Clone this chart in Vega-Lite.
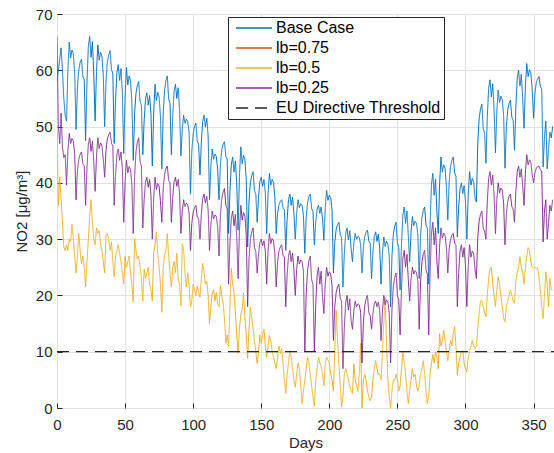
{
"$schema":"https://vega.github.io/schema/vega-lite/v6.json",
"width":497,"height":394,
"autosize":{"type":"none"},
"padding":{"left":57,"top":14,"right":0,"bottom":45},
"background":"white",
"config":{"font":"Liberation Sans","view":{"stroke":"#262626","strokeWidth":1},
"axis":{"labelFontSize":15,"titleFontSize":15,"titleFontWeight":"normal","labelColor":"#262626","titleColor":"#262626","gridColor":"#e2e2e2","gridWidth":1,"domain":false,"tickColor":"#262626","tickSize":-5,"labelFlush":false}},
"layer":[
{"data":{"values":[
{"d":0,"b":58,"p":66,"y":50},{"d":1,"b":60,"p":50,"y":36},{"d":2,"b":62,"p":47,"y":41},{"d":3,"b":64,"p":52.4,"y":37},{"d":4,"b":60,"p":46.4,"y":33},{"d":5,"b":55,"p":44.5,"y":28.6},{"d":6,"b":52,"p":45,"y":28},{"d":7,"b":51,"p":39.6,"y":29},
{"d":8,"b":60.1,"p":45.6,"y":28},{"d":9,"b":65,"p":48.8,"y":30},{"d":10,"b":62.2,"p":47,"y":29.5},{"d":11,"b":63.6,"p":47.9,"y":32.6},{"d":12,"b":62.9,"p":47.4,"y":30},{"d":13,"b":59.4,"p":45.1,"y":27},{"d":14,"b":49.5,"p":37,"y":24},
{"d":15,"b":57,"p":42.1,"y":27},{"d":16,"b":60.1,"p":44.2,"y":31},{"d":17,"b":61.4,"p":45.1,"y":28},{"d":18,"b":62,"p":45.5,"y":25.6},{"d":19,"b":58.9,"p":43.4,"y":27},{"d":20,"b":58.3,"p":43,"y":25},{"d":21,"b":47.5,"p":36,"y":21.5},
{"d":22,"b":57.7,"p":42.6,"y":26},{"d":23,"b":64.2,"p":46.8,"y":29.8},{"d":24,"b":66,"p":48,"y":34},{"d":25,"b":62.3,"p":45.6,"y":37},{"d":26,"b":65.1,"p":47.4,"y":33},{"d":27,"b":59.5,"p":43.8,"y":30},{"d":28,"b":51,"p":38.5,"y":29},
{"d":29,"b":59.8,"p":44.7,"y":32},{"d":30,"b":64.5,"p":48,"y":31},{"d":31,"b":61.8,"p":46.1,"y":31.5},{"d":32,"b":63.2,"p":47.1,"y":29},{"d":33,"b":62.5,"p":46.6,"y":28},{"d":34,"b":59.1,"p":44.2,"y":26},{"d":35,"b":50,"p":41,"y":24},
{"d":36,"b":58.1,"p":45.8,"y":30.7},{"d":37,"b":61.5,"p":47.8,"y":31},{"d":38,"b":62.8,"p":48.6,"y":30},{"d":39,"b":63.5,"p":49,"y":28},{"d":40,"b":60.1,"p":47,"y":29.5},{"d":41,"b":59.5,"p":46.6,"y":26},{"d":42,"b":47,"p":36,"y":23.3},
{"d":43,"b":54.7,"p":41.5,"y":27},{"d":44,"b":59.6,"p":45,"y":28},{"d":45,"b":61,"p":46,"y":29},{"d":46,"b":58.2,"p":44,"y":27.5},{"d":47,"b":60.3,"p":45.5,"y":26},{"d":48,"b":56.1,"p":42.5,"y":24},{"d":49,"b":45.2,"p":33,"y":22},
{"d":50,"b":55.1,"p":40.2,"y":26.9},{"d":51,"b":60.5,"p":44,"y":25},{"d":52,"b":57.4,"p":41.8,"y":26},{"d":53,"b":59,"p":42.9,"y":27},{"d":54,"b":58.2,"p":42.4,"y":24},{"d":55,"b":54.4,"p":39.6,"y":22},{"d":56,"b":44,"p":31,"y":18.8},
{"d":57,"b":52.4,"p":41.2,"y":30.1},{"d":58,"b":55.9,"p":45.5,"y":28},{"d":59,"b":57.3,"p":47.2,"y":26.5},{"d":60,"b":58,"p":48,"y":27},{"d":61,"b":54.5,"p":43.8,"y":25},{"d":62,"b":53.8,"p":42.9,"y":23},{"d":63,"b":45,"p":32,"y":19},
{"d":64,"b":51,"p":37,"y":24.7},{"d":65,"b":54.9,"p":40.1,"y":23},{"d":66,"b":56,"p":41,"y":24},{"d":67,"b":53.8,"p":39.2,"y":25},{"d":68,"b":55.5,"p":40.6,"y":22},{"d":69,"b":52.2,"p":37.9,"y":21},{"d":70,"b":43,"p":30,"y":19},
{"d":71,"b":52.4,"p":37.2,"y":27.6},{"d":72,"b":57.5,"p":41,"y":29},{"d":73,"b":54.6,"p":38.8,"y":31.3},{"d":74,"b":56.1,"p":39.9,"y":27.5},{"d":75,"b":55.3,"p":39.4,"y":25},{"d":76,"b":51.7,"p":36.6,"y":22},{"d":77,"b":42.5,"p":33,"y":17},
{"d":78,"b":52.4,"p":39,"y":25},{"d":79,"b":56.5,"p":41.5,"y":27},{"d":80,"b":58.2,"p":42.5,"y":28},{"d":81,"b":59,"p":43,"y":31},{"d":82,"b":54.9,"p":40.5,"y":27},{"d":83,"b":54.1,"p":40,"y":24},{"d":84,"b":45,"p":33,"y":21.5},
{"d":85,"b":51.9,"p":37.4,"y":25},{"d":86,"b":56.3,"p":40.2,"y":26},{"d":87,"b":57.5,"p":41,"y":24},{"d":88,"b":55,"p":39.4,"y":27.5},{"d":89,"b":56.9,"p":40.6,"y":23},{"d":90,"b":53.1,"p":38.2,"y":22},{"d":91,"b":44.8,"p":31,"y":18.2},
{"d":92,"b":49.5,"p":34.9,"y":29.2},{"d":93,"b":52,"p":37,"y":28},{"d":94,"b":50.6,"p":35.8,"y":24},{"d":95,"b":51.3,"p":36.4,"y":21.5},{"d":96,"b":50.9,"p":36.1,"y":24},{"d":97,"b":49.1,"p":34.6,"y":22},{"d":98,"b":38,"p":28,"y":18},
{"d":99,"b":45.6,"p":32.8,"y":19},{"d":100,"b":48.7,"p":34.8,"y":22},{"d":101,"b":50,"p":35.6,"y":21},{"d":102,"b":50.6,"p":36,"y":20},{"d":103,"b":47.5,"p":34,"y":21.7},{"d":104,"b":46.8,"p":33.6,"y":20.5},{"d":105,"b":41.4,"p":30,"y":19.7},
{"d":106,"b":47.2,"p":34.4,"y":23},{"d":107,"b":50.9,"p":37.2,"y":25.7},{"d":108,"b":52,"p":38,"y":24},{"d":109,"b":49.9,"p":36.4,"y":22},{"d":110,"b":51.5,"p":37.6,"y":22.5},{"d":111,"b":48.3,"p":35.2,"y":20},{"d":112,"b":37,"p":28,"y":15},
{"d":113,"b":42.9,"p":32.6,"y":18},{"d":114,"b":46,"p":35,"y":20.4},{"d":115,"b":44.2,"p":33.6,"y":21},{"d":116,"b":45.1,"p":34.3,"y":19},{"d":117,"b":44.7,"p":34,"y":20.5},{"d":118,"b":42.4,"p":32.2,"y":18.5},{"d":119,"b":37,"p":27,"y":18},
{"d":120,"b":43.2,"p":34.2,"y":21.7},{"d":121,"b":45.8,"p":37.2,"y":20},{"d":122,"b":46.8,"p":38.4,"y":18.7},{"d":123,"b":47.3,"p":39,"y":16},{"d":124,"b":44.7,"p":36,"y":11.5},{"d":125,"b":44.2,"p":35.4,"y":13},{"d":126,"b":31,"p":22,"y":11},
{"d":127,"b":38.5,"p":29.2,"y":18},{"d":128,"b":43.2,"p":33.7,"y":24.8},{"d":129,"b":44.6,"p":35,"y":22},{"d":130,"b":41.9,"p":32.4,"y":20.4},{"d":131,"b":43.9,"p":34.4,"y":17},{"d":132,"b":39.8,"p":30.5,"y":13},{"d":133,"b":31.6,"p":23,"y":9.7},
{"d":134,"b":41.2,"p":31.5,"y":14.3},{"d":135,"b":46.4,"p":36,"y":16.5},{"d":136,"b":43.4,"p":33.4,"y":17.7},{"d":137,"b":44.9,"p":34.7,"y":20.4},{"d":138,"b":44.2,"p":34.1,"y":16},{"d":139,"b":40.5,"p":30.8,"y":13},{"d":140,"b":28.6,"p":18,"y":8.8},
{"d":141,"b":36.6,"p":26.4,"y":14},{"d":142,"b":40,"p":29.9,"y":17.9},{"d":143,"b":41.3,"p":31.3,"y":16},{"d":144,"b":42,"p":32,"y":14.3},{"d":145,"b":38.7,"p":28.5,"y":12},{"d":146,"b":38,"p":27.8,"y":10},{"d":147,"b":33,"p":24,"y":7.9},
{"d":148,"b":37.4,"p":27.3,"y":10},{"d":149,"b":40.2,"p":29.4,"y":13},{"d":150,"b":41,"p":30,"y":11.5},{"d":151,"b":39.4,"p":28.8,"y":13},{"d":152,"b":40.6,"p":29.7,"y":14},{"d":153,"b":38.2,"p":27.9,"y":11},{"d":154,"b":31,"p":22,"y":9},
{"d":155,"b":38,"p":27.9,"y":11},{"d":156,"b":41.7,"p":31,"y":12.9},{"d":157,"b":39.6,"p":29.2,"y":12},{"d":158,"b":40.6,"p":30.1,"y":10},{"d":159,"b":40.1,"p":29.7,"y":9},{"d":160,"b":37.4,"p":27.4,"y":8},{"d":161,"b":31,"p":21.5,"y":7},
{"d":162,"b":34.6,"p":26,"y":9},{"d":163,"b":36.1,"p":27.9,"y":11},{"d":164,"b":36.7,"p":28.6,"y":9.7},{"d":165,"b":37,"p":29,"y":10.5},{"d":166,"b":35.5,"p":27.1,"y":8},{"d":167,"b":35.2,"p":26.8,"y":5},{"d":168,"b":28,"p":18,"y":2.6},
{"d":169,"b":33.5,"p":23.5,"y":6},{"d":170,"b":37,"p":27,"y":8},{"d":171,"b":38,"p":28,"y":10.2},{"d":172,"b":36,"p":26,"y":9},{"d":173,"b":37.5,"p":27.5,"y":7},{"d":174,"b":34.5,"p":24.5,"y":5},{"d":175,"b":30,"p":20,"y":3.7},
{"d":176,"b":34.6,"p":24.6,"y":6},{"d":177,"b":37,"p":27,"y":8},{"d":178,"b":35.6,"p":25.6,"y":7},{"d":179,"b":36.3,"p":26.3,"y":4},{"d":180,"b":36,"p":26,"y":0.8},{"d":181,"b":34.2,"p":24.2,"y":3},{"d":182,"b":27.5,"p":10,"y":5},
{"d":183,"b":33.8,"p":20.2,"y":7},{"d":184,"b":36.4,"p":24.5,"y":9},{"d":185,"b":37.5,"p":26.2,"y":8},{"d":186,"b":38,"p":27,"y":6},{"d":187,"b":35.4,"p":22.8,"y":4},{"d":188,"b":34.9,"p":21.9,"y":2},{"d":189,"b":29,"p":10,"y":0.3},
{"d":190,"b":32.9,"p":18.3,"y":5},{"d":191,"b":35.3,"p":23.5,"y":7},{"d":192,"b":36,"p":25,"y":9},{"d":193,"b":34.6,"p":22,"y":8},{"d":194,"b":35.7,"p":24.3,"y":7.5},{"d":195,"b":33.6,"p":19.8,"y":6},{"d":196,"b":29.8,"p":16.8,"y":4},
{"d":197,"b":35.6,"p":22.1,"y":8},{"d":198,"b":38.7,"p":25,"y":9},{"d":199,"b":36.9,"p":23.4,"y":8.5},{"d":200,"b":37.8,"p":24.2,"y":8},{"d":201,"b":37.4,"p":23.8,"y":6},{"d":202,"b":35.1,"p":21.7,"y":5},{"d":203,"b":24,"p":12,"y":3},
{"d":204,"b":29.4,"p":18,"y":10},{"d":205,"b":31.7,"p":20.5,"y":17.4},{"d":206,"b":32.6,"p":21.5,"y":12},{"d":207,"b":33,"p":22,"y":8},{"d":208,"b":30.8,"p":19.5,"y":4},{"d":209,"b":30.3,"p":19,"y":0.2},{"d":210,"b":21.5,"p":7,"y":2},
{"d":211,"b":27.3,"p":14.2,"y":6},{"d":212,"b":31,"p":18.7,"y":7},{"d":213,"b":32,"p":20,"y":6.1},{"d":214,"b":29.9,"p":17.4,"y":5},{"d":215,"b":31.5,"p":19.4,"y":4},{"d":216,"b":28.3,"p":15.5,"y":3},{"d":217,"b":26,"p":14,"y":2.6},
{"d":218,"b":29.3,"p":17.3,"y":7.9},{"d":219,"b":31,"p":19,"y":5},{"d":220,"b":30,"p":18,"y":4},{"d":221,"b":30.5,"p":18.5,"y":3},{"d":222,"b":30.3,"p":18.3,"y":6},{"d":223,"b":29,"p":17,"y":11.5},{"d":224,"b":24,"p":8,"y":0},
{"d":225,"b":28.6,"p":15.2,"y":4.9},{"d":226,"b":30.5,"p":18.2,"y":6},{"d":227,"b":31.2,"p":19.4,"y":5},{"d":228,"b":31.6,"p":20,"y":3},{"d":229,"b":29.7,"p":17,"y":2},{"d":230,"b":29.3,"p":16.4,"y":1.3},{"d":231,"b":23,"p":14,"y":2},
{"d":232,"b":27.6,"p":16.8,"y":5},{"d":233,"b":30.5,"p":18.5,"y":7},{"d":234,"b":31.3,"p":19,"y":8.4},{"d":235,"b":29.6,"p":18,"y":7},{"d":236,"b":30.9,"p":18.8,"y":6},{"d":237,"b":28.4,"p":17.3,"y":6},{"d":238,"b":22,"p":12,"y":5},
{"d":239,"b":27.5,"p":17.2,"y":10},{"d":240,"b":30.4,"p":20,"y":15},{"d":241,"b":28.7,"p":18.4,"y":19.7},{"d":242,"b":29.6,"p":19.2,"y":12},{"d":243,"b":29.1,"p":18.8,"y":5},{"d":244,"b":27,"p":16.8,"y":2},{"d":245,"b":18,"p":8,"y":0},
{"d":246,"b":27,"p":17.6,"y":3},{"d":247,"b":30.8,"p":21.6,"y":5},{"d":248,"b":32.3,"p":23.2,"y":4.9},{"d":249,"b":33,"p":24,"y":6},{"d":250,"b":29.3,"p":20,"y":5},{"d":251,"b":28.5,"p":19.2,"y":3},{"d":252,"b":21,"p":13,"y":4},
{"d":253,"b":29.1,"p":21.3,"y":7},{"d":254,"b":34.2,"p":26.5,"y":9.9},{"d":255,"b":35.7,"p":28,"y":8},{"d":256,"b":32.8,"p":25,"y":6},{"d":257,"b":35,"p":27.3,"y":3},{"d":258,"b":30.6,"p":22.8,"y":0.8},{"d":259,"b":26,"p":19,"y":3},
{"d":260,"b":31.2,"p":22.9,"y":5},{"d":261,"b":34,"p":25,"y":7},{"d":262,"b":32.4,"p":23.8,"y":5.5},{"d":263,"b":33.2,"p":24.4,"y":6},{"d":264,"b":32.8,"p":24.1,"y":4},{"d":265,"b":30.8,"p":22.6,"y":3},{"d":266,"b":23,"p":14,"y":4},
{"d":267,"b":30.6,"p":22.4,"y":6},{"d":268,"b":33.8,"p":25.9,"y":7},{"d":269,"b":35.1,"p":27.3,"y":8.4},{"d":270,"b":35.7,"p":28,"y":6},{"d":271,"b":32.5,"p":24.5,"y":3},{"d":272,"b":31.9,"p":23.8,"y":0.8},{"d":273,"b":22,"p":13,"y":2},
{"d":274,"b":32.8,"p":24,"y":6},{"d":275,"b":39.7,"p":31,"y":8},{"d":276,"b":41.7,"p":33,"y":9.5},{"d":277,"b":37.8,"p":29,"y":8},{"d":278,"b":40.7,"p":32,"y":10},{"d":279,"b":34.8,"p":26,"y":9},{"d":280,"b":31,"p":23,"y":7},
{"d":281,"b":39.8,"p":28.9,"y":13.2},{"d":282,"b":44.6,"p":32,"y":11},{"d":283,"b":41.9,"p":30.2,"y":12},{"d":284,"b":43.2,"p":31.1,"y":13.8},{"d":285,"b":42.6,"p":30.7,"y":12},{"d":286,"b":39.2,"p":28.4,"y":10},{"d":287,"b":33.4,"p":24,"y":8.4},
{"d":288,"b":40.1,"p":28.2,"y":10},{"d":289,"b":42.9,"p":29.9,"y":12},{"d":290,"b":44,"p":30.7,"y":11},{"d":291,"b":44.6,"p":31,"y":13.2},{"d":292,"b":41.8,"p":29.3,"y":14.4},{"d":293,"b":41.2,"p":28.9,"y":11},{"d":294,"b":30.4,"p":18,"y":5.8},
{"d":295,"b":35.7,"p":24.1,"y":8},{"d":296,"b":39,"p":27.9,"y":9},{"d":297,"b":40,"p":29,"y":10},{"d":298,"b":38.1,"p":26.8,"y":10.2},{"d":299,"b":39.5,"p":28.5,"y":8},{"d":300,"b":36.6,"p":25.2,"y":7},{"d":301,"b":30,"p":18,"y":6.4},
{"d":302,"b":37.8,"p":25.2,"y":9},{"d":303,"b":42,"p":29,"y":10},{"d":304,"b":39.6,"p":26.8,"y":11},{"d":305,"b":40.8,"p":27.9,"y":12},{"d":306,"b":40.2,"p":27.4,"y":11},{"d":307,"b":37.2,"p":24.6,"y":10.6},{"d":308,"b":36.6,"p":23,"y":11},
{"d":309,"b":47,"p":30.2,"y":14},{"d":310,"b":51.4,"p":33.2,"y":16.8},{"d":311,"b":53.1,"p":34.4,"y":19},{"d":312,"b":54,"p":35,"y":19.1},{"d":313,"b":49.7,"p":32,"y":18},{"d":314,"b":48.8,"p":31.4,"y":17},{"d":315,"b":43.5,"p":30,"y":16.2},
{"d":316,"b":51.6,"p":36.6,"y":20},{"d":317,"b":56.8,"p":40.8,"y":23},{"d":318,"b":58.3,"p":42,"y":24.8},{"d":319,"b":55.3,"p":39.6,"y":25},{"d":320,"b":57.6,"p":41.4,"y":22},{"d":321,"b":53.1,"p":37.8,"y":20},{"d":322,"b":45.3,"p":31,"y":18},
{"d":323,"b":52.6,"p":36.9,"y":21},{"d":324,"b":56.5,"p":40,"y":23.3},{"d":325,"b":54.3,"p":38.2,"y":22},{"d":326,"b":55.4,"p":39.1,"y":20},{"d":327,"b":54.8,"p":38.7,"y":18},{"d":328,"b":52,"p":36.4,"y":16},{"d":329,"b":42.6,"p":29,"y":15.3},
{"d":330,"b":49.9,"p":34.4,"y":18},{"d":331,"b":52.9,"p":36.7,"y":19},{"d":332,"b":54.1,"p":37.6,"y":20},{"d":333,"b":54.7,"p":38,"y":20.9},{"d":334,"b":51.7,"p":35.8,"y":20},{"d":335,"b":51.1,"p":35.3,"y":19},{"d":336,"b":45.8,"p":33,"y":18.6},
{"d":337,"b":53.6,"p":38.5,"y":22.7},{"d":338,"b":58.6,"p":42,"y":24},{"d":339,"b":60,"p":43,"y":25},{"d":340,"b":57.2,"p":41,"y":26.9},{"d":341,"b":59.3,"p":42.5,"y":25},{"d":342,"b":55,"p":39.5,"y":24},{"d":343,"b":49.7,"p":36,"y":22},
{"d":344,"b":57.2,"p":41.9,"y":25},{"d":345,"b":61.2,"p":45,"y":27},{"d":346,"b":58.9,"p":43.2,"y":28.5},{"d":347,"b":60.1,"p":44.1,"y":28},{"d":348,"b":59.5,"p":43.7,"y":26},{"d":349,"b":56.6,"p":41.4,"y":25},{"d":350,"b":51.5,"p":40,"y":24.8},
{"d":351,"b":55.9,"p":41.8,"y":25},{"d":352,"b":57.8,"p":42.6,"y":24.8},{"d":353,"b":58.5,"p":42.9,"y":25},{"d":354,"b":58.9,"p":43,"y":23},{"d":355,"b":57.1,"p":42.3,"y":21},{"d":356,"b":56.7,"p":42.1,"y":18},{"d":357,"b":42.8,"p":29.5,"y":15.9},
{"d":358,"b":48,"p":35,"y":20},{"d":359,"b":51,"p":37,"y":24.2},{"d":360,"b":42.5,"p":30,"y":22},{"d":361,"b":46,"p":33,"y":18},{"d":362,"b":49,"p":36,"y":23},{"d":363,"b":48,"p":35,"y":21},{"d":364,"b":50,"p":37,"y":21}
]},
"transform":[{"fold":["b","y","p"],"as":["k","v"]}],
"mark":{"type":"line","strokeWidth":1,"clip":true},
"encoding":{
"x":{"field":"d","type":"quantitative","scale":{"domain":[0,365],"nice":false},"axis":{"title":"Days","values":[0,50,100,150,200,250,300,350],"labelPadding":14,"titlePadding":3}},
"y":{"field":"v","type":"quantitative","scale":{"domain":[0,70],"nice":false},"axis":{"title":"NO2 [μg/m³]","values":[0,10,20,30,40,50,60,70],"labelPadding":10,"titlePadding":6}},
"color":{"field":"k","type":"nominal","scale":{"domain":["b","o","y","p","t"],"range":["#0072BD","#D95319","#EDB120","#7E2F8E","#262626"]},"legend":{"title":null,"orient":"none","legendX":171,"legendY":3,"symbolType":"M-0.6,0H6.6","symbolSize":100,"symbolStrokeWidth":1.3,"symbolFillColor":"transparent","labelFontSize":16,"labelLimit":300,"labelColor":"#000000","strokeColor":"#262626","fillColor":"white","padding":3,"rowPadding":4,"labelOffset":29,"labelExpr":"{'b':'Base Case','o':'lb=0.75','y':'lb=0.5','p':'lb=0.25','t':'EU Directive Threshold'}[datum.label]"}},
"strokeDash":{"field":"k","type":"nominal","scale":{"domain":["b","o","y","p","t"],"range":[[1,0],[1,0],[1,0],[1,0],[12,7]]},"legend":{"title":null,"orient":"none","legendX":171,"legendY":3,"symbolType":"M-0.6,0H6.6","symbolSize":100,"symbolStrokeWidth":1.3,"symbolFillColor":"transparent","labelFontSize":16,"labelLimit":300,"labelColor":"#000000","strokeColor":"#262626","fillColor":"white","padding":3,"rowPadding":4,"labelOffset":29,"labelExpr":"{'b':'Base Case','o':'lb=0.75','y':'lb=0.5','p':'lb=0.25','t':'EU Directive Threshold'}[datum.label]"}}
}},
{"data":{"values":[{"d":0,"v":10,"k":"t"},{"d":365,"v":10,"k":"t"}]},
"mark":{"type":"line","strokeWidth":1.3},
"encoding":{
"x":{"field":"d","type":"quantitative"},
"y":{"field":"v","type":"quantitative"},
"color":{"field":"k","type":"nominal"},
"strokeDash":{"field":"k","type":"nominal"}
}}
]
}
